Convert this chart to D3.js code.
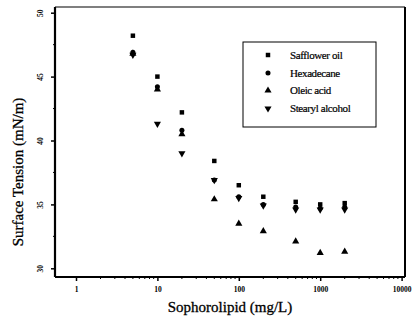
<!DOCTYPE html>
<html><head><meta charset="utf-8">
<script src="https://cdn.jsdelivr.net/npm/d3@7"></script>
<style>
html,body{margin:0;padding:0;background:#fff;}
svg{display:block;font-family:"Liberation Serif","Times New Roman",serif;}
</style></head>
<body><svg id="c" width="414" height="328"></svg>
<script>
const concentrations = [5, 10, 20, 50, 100, 200, 500, 1000, 2000];
const safflowerOil   = [48.2, 45.0, 42.2, 38.4, 36.5, 35.6, 35.2, 35.0, 35.1];
const hexadecane     = [46.9, 44.2, 40.8, 36.9, 35.6, 35.0, 34.8, 34.7, 34.8];
const oleicAcid      = [46.8, 44.0, 40.5, 35.4, 33.5, 32.9, 32.1, 31.2, 31.3];
const stearylAlcohol = [46.7, 41.3, 39.0, 36.9, 35.5, 34.9, 34.6, 34.6, 34.6];
const seriesNames = ["Safflower oil", "Hexadecane", "Oleic acid", "Stearyl alcohol"];
const xTickValues = [1, 10, 100, 1000, 10000];
const yTickValues = [30, 35, 40, 45, 50];
const yMinorTicks = [32.5, 37.5, 42.5, 47.5];

const FONT = "'Liberation Serif', 'Times New Roman', serif";
const svg = d3.select("#c");
const L = 55, R = 405, T = 7, B = 277;
const x = d3.scaleLog().domain([1, 10000]).range([76, 401.6]);
const y = d3.scaleLinear().domain([30, 50]).range([268.3, 12.7]);

// frame
svg.append("line").attr("x1", L).attr("x2", R).attr("y1", T).attr("y2", T).attr("stroke", "#000").attr("stroke-width", 1.2);
svg.append("line").attr("x1", L).attr("x2", L).attr("y1", T).attr("y2", B).attr("stroke", "#000").attr("stroke-width", 2.2);
svg.append("line").attr("x1", L).attr("x2", R).attr("y1", B).attr("y2", B).attr("stroke", "#000").attr("stroke-width", 2.2);
svg.append("line").attr("x1", R).attr("x2", R).attr("y1", T).attr("y2", B).attr("stroke", "#000").attr("stroke-width", 2);

// x axis
const xAxis = d3.axisBottom(x).tickValues(xTickValues).tickFormat(d3.format("d")).tickSize(4).tickPadding(6);
const gx = svg.append("g").attr("transform", `translate(0,${B})`).call(xAxis).attr("font-family", FONT);
gx.select(".domain").remove();
gx.selectAll(".tick line").attr("stroke-width", 1.5);
gx.selectAll(".tick text").attr("font-family", FONT).attr("font-size", 7.5).attr("font-weight", "bold");
const minorX = [];
[1, 10, 100, 1000].forEach(d => { for (let k = 2; k <= 9; k++) minorX.push(d * k); });
svg.append("g").selectAll("line").data(minorX).join("line")
  .attr("x1", d => x(d)).attr("x2", d => x(d)).attr("y1", B).attr("y2", B + 2)
  .attr("stroke", "#000").attr("stroke-width", 1);

// y axis
const yAxis = d3.axisLeft(y).tickValues(yTickValues).tickSize(4).tickPadding(0).tickFormat(d3.format("d"));
const gy = svg.append("g").attr("transform", `translate(${L},0)`).call(yAxis).attr("font-family", FONT);
gy.select(".domain").remove();
gy.selectAll(".tick line").attr("stroke-width", 1.5);
gy.selectAll(".tick text").attr("font-family", FONT).attr("font-size", 7.5).attr("font-weight", "bold")
  .attr("text-anchor", "middle").attr("x", 0).attr("dy", 0).attr("y", 0)
  .attr("transform", "translate(-12,0) rotate(-90)");
svg.append("g").selectAll("line").data(yMinorTicks).join("line")
  .attr("x1", L - 2).attr("x2", L).attr("y1", d => y(d)).attr("y2", d => y(d))
  .attr("stroke", "#000").attr("stroke-width", 1);

// axis titles
svg.append("text").attr("x", (L + R) / 2).attr("y", 312).attr("text-anchor", "middle")
  .attr("font-family", FONT).attr("font-size", 15).attr("fill", "#000")
  .attr("stroke", "#000").attr("stroke-width", 0.3).text("Sophorolipid (mg/L)");
svg.append("text").attr("transform", "translate(23,172) rotate(-90)").attr("text-anchor", "middle")
  .attr("font-family", FONT).attr("font-size", 15).attr("fill", "#000")
  .attr("stroke", "#000").attr("stroke-width", 0.3).text("Surface Tension (mN/m)");

// symbols
const symTypes = [d3.symbolSquare, d3.symbolCircle, d3.symbolTriangle, d3.symbolTriangle];
const symRot = [0, 0, 0, 180];
const symSize = [20, 20, 22, 22];
const allSeries = [safflowerOil, hexadecane, oleicAcid, stearylAlcohol];
allSeries.forEach((vals, si) => {
  const g = svg.append("g");
  g.selectAll("path").data(concentrations.map((c, i) => [c, vals[i]])).join("path")
    .attr("d", d3.symbol().type(symTypes[si]).size(symSize[si]))
    .attr("transform", d => `translate(${x(d[0])},${y(d[1])}) rotate(${symRot[si]})`)
    .attr("fill", "#000");
});

// legend
const lg = svg.append("g");
lg.append("rect").attr("x", 243).attr("y", 42).attr("width", 133).attr("height", 85)
  .attr("fill", "#fff").attr("stroke", "#000").attr("stroke-width", 1);
const rowY = [55, 73, 90.5, 108.5];
seriesNames.forEach((name, si) => {
  lg.append("path").attr("d", d3.symbol().type(symTypes[si]).size(symSize[si])())
    .attr("transform", `translate(268,${rowY[si]}) rotate(${symRot[si]})`).attr("fill", "#000");
  lg.append("text").attr("x", 290).attr("y", rowY[si] + 3.5)
    .attr("font-family", FONT).attr("font-size", 11)
    .attr("letter-spacing", -0.4).attr("fill", "#000")
    .attr("stroke", "#000").attr("stroke-width", 0.2).text(name);
});
</script></body></html>
